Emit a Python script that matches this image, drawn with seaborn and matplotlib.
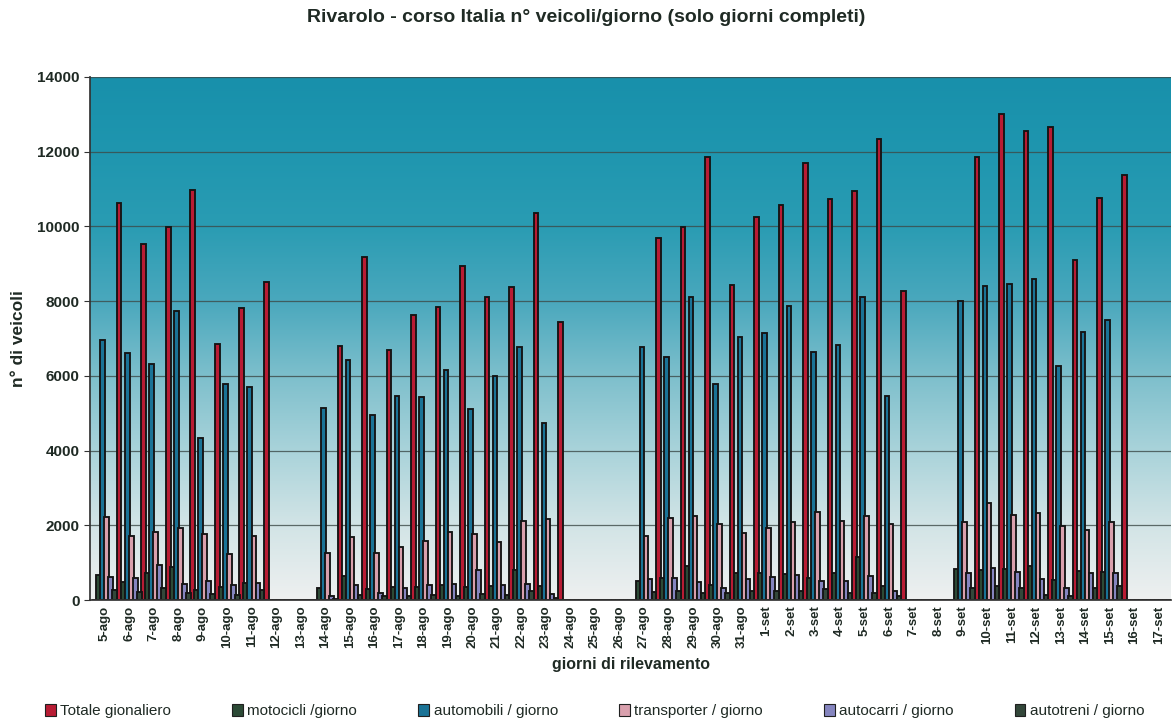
import numpy as np
import pandas as pd
import matplotlib
matplotlib.use("Agg")
import matplotlib.pyplot as plt
import seaborn as sns
from matplotlib.colors import LinearSegmentedColormap

giorni = ["5-ago", "6-ago", "7-ago", "8-ago", "9-ago", "10-ago", "11-ago", "12-ago", "13-ago",
          "14-ago", "15-ago", "16-ago", "17-ago", "18-ago", "19-ago", "20-ago", "21-ago", "22-ago",
          "23-ago", "24-ago", "25-ago", "26-ago", "27-ago", "28-ago", "29-ago", "30-ago", "31-ago",
          "1-set", "2-set", "3-set", "4-set", "5-set", "6-set", "7-set", "8-set", "9-set", "10-set",
          "11-set", "12-set", "13-set", "14-set", "15-set", "16-set", "17-set"]

totale = [0, 10630, 9520, 9975, 10975, 6840, 7810, 8500, 0,
          0, 6810, 9180, 6690, 7620, 7850, 8950, 8100, 8370,
          10350, 7450, 0, 0, 0, 9680, 9990, 11870, 8430,
          10240, 10570, 11710, 10740, 10960, 12330, 8260, 0, 0, 11870,
          13000, 12560, 12660, 9090, 10750, 11390, 0]
motocicli = [670, 490, 720, 890, 270, 360, 450, 0, 0,
             320, 640, 300, 360, 360, 400, 360, 380, 800,
             370, 0, 0, 0, 520, 580, 900, 400, 710,
             710, 690, 600, 730, 1140, 380, 0, 0, 830, 810,
             830, 910, 530, 770, 740, 0, 0]
automobili = [6960, 6620, 6330, 7740, 4330, 5770, 5710, 0, 0,
              5140, 6420, 4950, 5470, 5440, 6160, 5110, 6000, 6760,
              4750, 0, 0, 0, 6780, 6500, 8100, 5770, 7050,
              7140, 7870, 6650, 6830, 8110, 5460, 0, 0, 8010, 8400,
              8470, 8590, 6270, 7180, 7490, 0, 0]
transporter = [2220, 1700, 1830, 1940, 1770, 1220, 1700, 0, 0,
               1270, 1680, 1270, 1430, 1590, 1810, 1770, 1540, 2120,
               2160, 0, 0, 0, 1710, 2200, 2250, 2030, 1790,
               1940, 2100, 2360, 2120, 2240, 2030, 0, 0, 2080, 2600,
               2280, 2330, 1990, 1870, 2080, 0, 0]
autocarri = [620, 580, 940, 430, 520, 400, 460, 0, 0,
             100, 400, 200, 330, 400, 440, 800, 400, 440,
             150, 0, 0, 0, 560, 600, 490, 330, 560,
             620, 660, 510, 510, 640, 240, 0, 0, 720, 860,
             740, 550, 330, 720, 720, 0, 0]
autotreni = [270, 220, 320, 180, 160, 140, 270, 0, 0,
             40, 130, 100, 120, 130, 120, 150, 130, 230,
             60, 0, 0, 0, 220, 250, 200, 180, 250,
             250, 240, 290, 200, 200, 110, 0, 0, 320, 380,
             320, 140, 100, 330, 380, 0, 0]

serie = ["Totale gionaliero", "motocicli /giorno", "automobili / giorno",
         "transporter / giorno", "autocarri / giorno", "autotreni / giorno"]
colori = ["#b81c34", "#2c4a36", "#1a7396", "#d9a0ad", "#8585bf", "#33473a"]
y_ticks = [0, 2000, 4000, 6000, 8000, 10000, 12000, 14000]

df = pd.DataFrame({
    "giorno": giorni * 6,
    "serie": np.repeat(serie, len(giorni)),
    "valore": totale + motocicli + automobili + transporter + autocarri + autotreni,
})

sns.set_theme(style="white")
plt.rcParams["font.family"] = ["Liberation Sans", "DejaVu Sans"]
txt = "#1f2a24"

fig = plt.figure(figsize=(11.73, 7.23), dpi=100)
ax = fig.add_axes([90 / 1173, 1 - 600 / 723, 1081 / 1173, 523 / 723])

# gradient background
grad_cmap = LinearSegmentedColormap.from_list(
    "bg", [(0.0, "#eef0f0"), (0.143, "#d2e4e6"), (0.286, "#a9d3da"), (0.429, "#7dbfcc"),
           (0.571, "#4aa8bd"), (0.714, "#2a9cb3"), (0.857, "#1f96af"), (1.0, "#1890ab")])
grad = np.linspace(0, 1, 256).reshape(-1, 1)
ax.imshow(grad, extent=[-0.6, 43.5, 0, 14000], origin="lower", aspect="auto",
          cmap=grad_cmap, zorder=0)

sns.barplot(data=df, x="giorno", y="valore", hue="serie", hue_order=serie,
            palette=colori, saturation=1, width=0.98, errorbar=None,
            edgecolor="#141414", linewidth=1.35, ax=ax)

for p in ax.patches:
    w = p.get_width()
    p.set_x(p.get_x() - w * 0.07)
    p.set_width(w * 1.14)

ax.set_xlim(-0.6, 43.5)
ax.set_ylim(0, 14000)
ax.set_yticks(y_ticks)
ax.set_yticklabels([str(v) for v in y_ticks], fontsize=11, fontweight="bold", color=txt)
ax.set_xticks(range(len(giorni)))
ax.set_xticklabels(giorni, rotation=90, fontsize=9.5, color=txt, fontweight="bold")
ax.set_xticks(np.arange(-0.5, len(giorni), 1), minor=True)
ax.tick_params(axis="x", which="major", length=0, pad=4)
ax.tick_params(axis="x", which="minor", length=4, color="#333333", width=0.8)
ax.tick_params(axis="y", length=4, color="#333333", width=0.8, left=True)
ax.yaxis.grid(True, color="#3d4a48", linewidth=0.9, alpha=0.8)
ax.set_axisbelow(True)
for s in ["top", "right"]:
    ax.spines[s].set_visible(False)
ax.spines["left"].set_color("#333333")
ax.spines["bottom"].set_color("#333333")

ax.set_xlabel("giorni di rilevamento", fontsize=11.5, fontweight="bold", color=txt, labelpad=6)
ax.set_ylabel("n° di veicoli", fontsize=12.5, fontweight="bold", color=txt, labelpad=8)

fig.suptitle("Rivarolo - corso Italia n° veicoli/giorno (solo giorni completi)",
             x=0.5, y=1 - 18 / 723, va="center", fontsize=14, fontweight="bold", color=txt)

handles, labels = ax.get_legend_handles_labels()
ax.get_legend().remove()
for h in handles:
    h.set_edgecolor("#202020")
    h.set_linewidth(0.8)
fig.legend(handles, labels, loc="center", bbox_to_anchor=(0.507, 1 - 711 / 723), ncol=6,
           frameon=False, fontsize=11, handlelength=0.7, handleheight=0.9,
           handletextpad=0.3, columnspacing=4.0, labelcolor=txt)

fig.savefig("out.png", dpi=100)
